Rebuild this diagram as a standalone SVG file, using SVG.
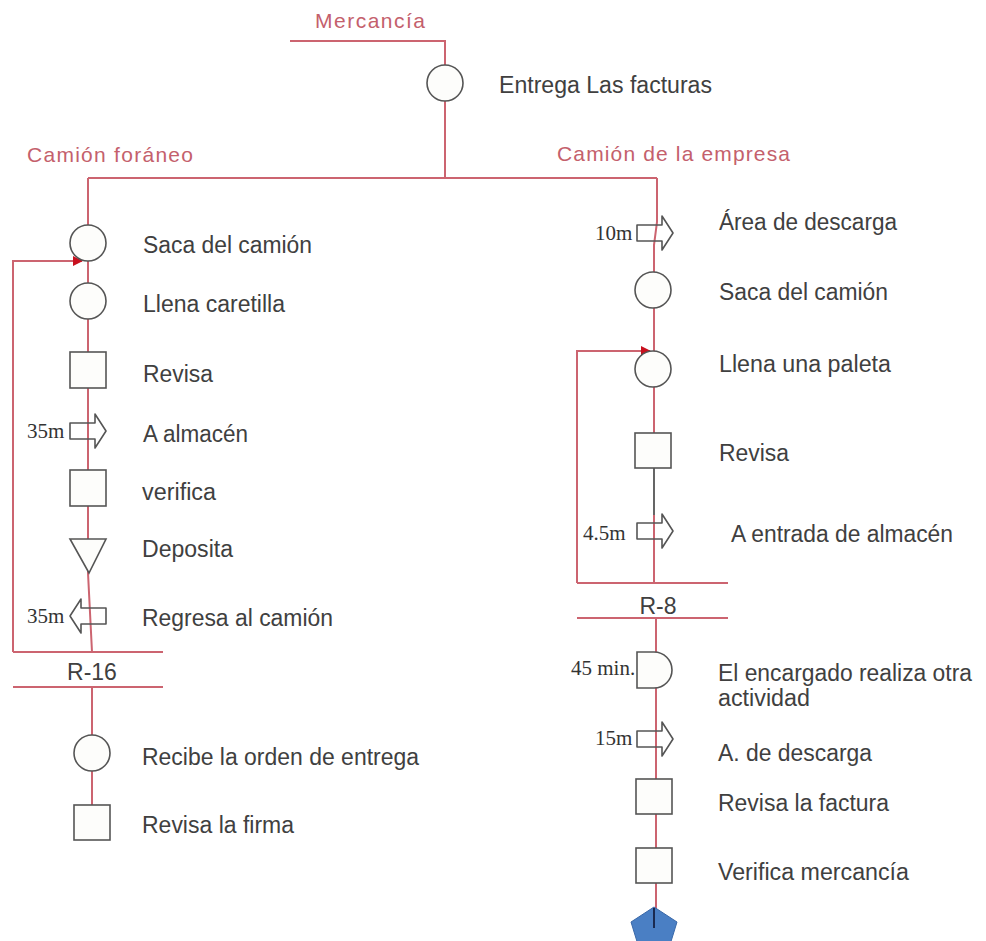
<svg xmlns="http://www.w3.org/2000/svg" width="986" height="941" viewBox="0 0 986 941">
<style>
.ln{fill:none;stroke:#cc6470;stroke-width:2}
.sh{fill:#fdfdfb;stroke:#555;stroke-width:1.6}
.ar{fill:none;stroke:#555;stroke-width:1.6;stroke-linejoin:round}
.t{font-family:"Liberation Sans",Arial,sans-serif;font-size:23px;fill:#404040}
.r{font-family:"Liberation Sans",Arial,sans-serif;font-size:21px;fill:#c4606c}
.s{font-family:"Liberation Serif","Times New Roman",serif;font-size:21px;fill:#333}
</style>
<defs>
<marker id="mk" viewBox="0 0 10 10" refX="9" refY="5" markerWidth="5" markerHeight="5" orient="auto" markerUnits="strokeWidth">
<path d="M0,0 L10,5 L0,10 Z" fill="#c8101e"/>
</marker>
<path id="arr" d="M0,-8 H25 V-17 L36,0 L25,17 V8 H0 Z"/>
</defs>
<rect width="986" height="941" fill="#fff"/>
<g id="connectors">
<path class="ln" d="M290,41 H445 V101 V178"/>
<path class="ln" d="M88,178 H657"/>
<path class="ln" d="M88,178 V573 L92,652"/>
<path class="ln" d="M92,687 V840"/>
<path class="ln" d="M13,652 H163"/>
<path class="ln" d="M13,687 H163"/>
<path class="ln" d="M13,652 V261 H82" marker-end="url(#mk)"/>
<path class="ln" d="M657,178 V222 L654,245 V468"/>
<path d="M654,468 V515" fill="none" stroke="#555" stroke-width="1.8"/>
<path class="ln" d="M654,515 V583"/>
<path class="ln" d="M577,583 H728"/>
<path class="ln" d="M577,618 H728"/>
<path class="ln" d="M577,583 V351 H650" marker-end="url(#mk)"/>
<path class="ln" d="M656,618 V910"/>
</g>
<g id="labels-top">
<text class="r" x="315" y="28" textLength="110" lengthAdjust="spacing">Mercancía</text>
<text class="r" x="27" y="162" textLength="166" lengthAdjust="spacing">Camión foráneo</text>
<text class="r" x="557" y="161" textLength="233" lengthAdjust="spacing">Camión de la empresa</text>
</g>
<g id="n-entrega"><circle class="sh" cx="445" cy="83" r="18"/><text class="t" x="499" y="93" textLength="213" lengthAdjust="spacingAndGlyphs">Entrega Las facturas</text></g>
<g id="l-saca"><circle class="sh" cx="88" cy="243" r="18"/><text class="t" x="143" y="253" textLength="169" lengthAdjust="spacingAndGlyphs">Saca del camión</text></g>
<g id="l-llena"><circle class="sh" cx="88" cy="301" r="18"/><text class="t" x="143" y="312" textLength="142" lengthAdjust="spacingAndGlyphs">Llena caretilla</text></g>
<g id="l-revisa"><rect class="sh" x="70" y="352" width="36" height="36"/><text class="t" x="143" y="382" textLength="70" lengthAdjust="spacingAndGlyphs">Revisa</text></g>
<g id="l-almacen"><use href="#arr" class="ar" transform="translate(70,431)"/><text class="s" x="27" y="438">35m</text><text class="t" x="143" y="442" textLength="105" lengthAdjust="spacingAndGlyphs">A almacén</text></g>
<g id="l-verifica"><rect class="sh" x="70" y="470" width="36" height="36"/><text class="t" x="142" y="500" textLength="74" lengthAdjust="spacingAndGlyphs">verifica</text></g>
<g id="l-deposita"><path class="sh" d="M70,539 H106 L89,573 Z"/><text class="t" x="142" y="557" textLength="91" lengthAdjust="spacingAndGlyphs">Deposita</text></g>
<g id="l-regresa"><use href="#arr" class="ar" transform="translate(106,616) scale(-1,1)"/><text class="s" x="27" y="623">35m</text><text class="t" x="142" y="626" textLength="191" lengthAdjust="spacingAndGlyphs">Regresa al camión</text></g>
<g id="l-r16"><text class="t" x="92" y="680" text-anchor="middle">R-16</text></g>
<g id="l-recibe"><circle class="sh" cx="92" cy="753" r="18"/><text class="t" x="142" y="765" textLength="277" lengthAdjust="spacingAndGlyphs">Recibe la orden de entrega</text></g>
<g id="l-firma"><rect class="sh" x="74" y="805" width="36" height="35"/><text class="t" x="142" y="833" textLength="152" lengthAdjust="spacingAndGlyphs">Revisa la firma</text></g>
<g id="r-area"><use href="#arr" class="ar" transform="translate(637,233)"/><text class="s" x="595" y="240">10m</text><text class="t" x="719" y="230" textLength="178" lengthAdjust="spacingAndGlyphs">Área de descarga</text></g>
<g id="r-saca"><circle class="sh" cx="653" cy="290" r="18"/><text class="t" x="719" y="300" textLength="169" lengthAdjust="spacingAndGlyphs">Saca del camión</text></g>
<g id="r-llena"><circle class="sh" cx="653" cy="369" r="18"/><text class="t" x="719" y="372" textLength="172" lengthAdjust="spacingAndGlyphs">Llena una paleta</text></g>
<g id="r-revisa"><rect class="sh" x="635" y="433" width="36" height="35"/><text class="t" x="719" y="461" textLength="70" lengthAdjust="spacingAndGlyphs">Revisa</text></g>
<g id="r-entrada"><use href="#arr" class="ar" transform="translate(637,531)"/><text class="s" x="583" y="540">4.5m</text><text class="t" x="731" y="542" textLength="222" lengthAdjust="spacingAndGlyphs">A entrada de almacén</text></g>
<g id="r-r8"><text class="t" x="658" y="614" text-anchor="middle">R-8</text></g>
<g id="r-espera"><path class="sh" d="M637,652 H654 A18,18 0 0 1 654,688 H637 Z"/><text class="s" x="571" y="675">45 min.</text><text class="t" x="718" y="681" textLength="254" lengthAdjust="spacingAndGlyphs">El encargado realiza otra</text><text class="t" x="718" y="706" textLength="92" lengthAdjust="spacingAndGlyphs">actividad</text></g>
<g id="r-descarga"><use href="#arr" class="ar" transform="translate(637,739)"/><text class="s" x="595" y="745">15m</text><text class="t" x="718" y="761" textLength="154" lengthAdjust="spacingAndGlyphs">A. de descarga</text></g>
<g id="r-factura"><rect class="sh" x="636" y="779" width="36" height="35"/><text class="t" x="718" y="811" textLength="171" lengthAdjust="spacingAndGlyphs">Revisa la factura</text></g>
<g id="r-verifica"><rect class="sh" x="636" y="848" width="36" height="35"/><text class="t" x="718" y="880" textLength="191" lengthAdjust="spacingAndGlyphs">Verifica mercancía</text></g>
<g id="r-fin"><path d="M654,907 L677,922 L669,948 L639,948 L631,922 Z" fill="#4a7fc4" stroke="#3a68a8" stroke-width="1"/><path d="M654,908 V928" stroke="#1a2a50" stroke-width="2"/></g>
</svg>
